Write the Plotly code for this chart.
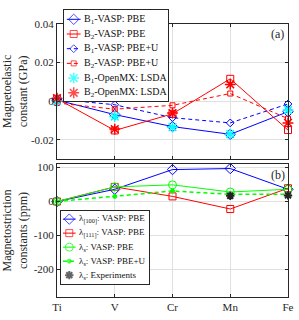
import plotly.graph_objects as go

elements = ["Ti", "V", "Cr", "Mn", "Fe"]

# Panel (a): magnetoelastic constants (GPa)
b1_vasp_pbe = [0.0005, -0.0070, -0.0132, -0.0172, -0.0055]
b2_vasp_pbe = [0.0012, -0.0152, -0.0066, 0.0115, -0.0150]
b1_vasp_pbeu = [0.0010, -0.0019, -0.0086, -0.0113, -0.0015]
b2_vasp_pbeu = [-0.0010, -0.0042, -0.0022, 0.0039, -0.0091]
b1_openmx = [0.0000, -0.0080, -0.0135, -0.0171, -0.0046]
b2_openmx = [0.0015, -0.0145, -0.0062, 0.0086, -0.0113]

# Panel (b): magnetostriction constants (ppm)
lam100_pbe = [0, 36, 94, 97, 36]
lam111_pbe = [0, 43, 15, -22, 39]
lams_pbe = [0, 43, 49, 28, 36]
lams_pbeu = [0, 15, 31, 21, 21]
exp_elements = ["Mn", "Fe"]
lams_exp = [17, 18]

names_a = ["B<sub>1</sub>-VASP: PBE", "B<sub>2</sub>-VASP: PBE", "B<sub>1</sub>-VASP: PBE+U",
           "B<sub>2</sub>-VASP: PBE+U", "B<sub>1</sub>-OpenMX: LSDA", "B<sub>2</sub>-OpenMX: LSDA"]
names_b = ["λ<sub>[100]</sub>: VASP: PBE", "λ<sub>[111]</sub>: VASP: PBE", "λ<sub>s</sub>: VASP: PBE",
           "λ<sub>s</sub>: VASP: PBE+U", "λ<sub>s</sub>: Experiments"]

BLUE = "#0000FF"
RED = "#FF0000"
CYAN = "#00FFFF"
GREEN = "#00FF00"
DARK = "#262626"
SERIF = "Liberation Serif, Times New Roman, serif"
DASH = "4px,3px"

# style: (color, dash or None for markers only, symbol, size, line width, marker line width)
styles_a = [
    (BLUE, "solid", "diamond-open", 8, 1.0, 1.0),
    (RED, "solid", "square-open", 7, 1.0, 1.0),
    (BLUE, DASH, "diamond-open", 6, 1.0, 1.0),
    (RED, DASH, "square-open", 5, 1.0, 1.0),
    (CYAN, None, "asterisk-open", 9, 1.0, 1.5),
    (RED, None, "asterisk-open", 9, 1.0, 1.5),
]
styles_b = [
    (BLUE, "solid", "diamond-open", 8, 1.0, 1.0),
    (RED, "solid", "square-open", 7, 1.0, 1.0),
    (GREEN, "solid", "circle-open", 8, 1.0, 1.0),
    (GREEN, DASH, "circle", 4, 1.5, 1.0),
    ("#222222", None, "asterisk-open", 7, 1.0, 2.0),
]

W, H = 299, 320
ML, MR, MT, MB = 53, 11, 4, 23
PW, PH = W - ML - MR, H - MT - MB


def px_x(p):
    return (p - ML) / PW


def px_y(p):
    return (H - MB - p) / PH


fig = go.Figure()


def add_series(x, y, style, axes):
    color, dash, symbol, size, lw, mlw = style
    fig.add_trace(go.Scatter(
        x=x, y=y, mode="markers" if dash is None else "lines+markers",
        line=dict(color=color, width=lw, dash=dash or "solid"),
        marker=dict(symbol=symbol, size=size, color=color, line=dict(color=color, width=mlw)),
        xaxis=axes[0], yaxis=axes[1], cliponaxis=False, showlegend=False, hoverinfo="x+y",
    ))


series_a = [b1_vasp_pbe, b2_vasp_pbe, b1_vasp_pbeu, b2_vasp_pbeu, b1_openmx, b2_openmx]
for vals, st in zip(series_a, styles_a):
    add_series(elements, vals, st, ("x", "y"))

series_b = [(elements, lam100_pbe), (elements, lam111_pbe), (elements, lams_pbe),
            (elements, lams_pbeu), (exp_elements, lams_exp)]
for (xs, vals), st in zip(series_b, styles_b):
    add_series(xs, vals, st, ("x2", "y2"))

annotations = []
legend_axes = {}


def add_legend(ax_id, names, styles, box, first_row, row_step, key_x0, key_x1, text_x, font_size):
    # box in figure pixels: left, top, right, bottom
    left, top, right, bottom = box
    xa, ya = "x%d" % ax_id, "y%d" % ax_id
    legend_axes["xaxis%d" % ax_id] = dict(
        domain=[px_x(left), px_x(right)], range=[0, right - left], anchor=ya,
        showline=True, mirror=True, linecolor=DARK, linewidth=1,
        showgrid=False, zeroline=False, showticklabels=False, ticks="", fixedrange=True)
    legend_axes["yaxis%d" % ax_id] = dict(
        domain=[px_y(bottom), px_y(top)], range=[bottom - top, 0], anchor=xa,
        showline=True, mirror=True, linecolor=DARK, linewidth=1,
        showgrid=False, zeroline=False, showticklabels=False, ticks="", fixedrange=True)
    mid = (key_x0 + key_x1) / 2
    for i, (name, st) in enumerate(zip(names, styles)):
        color, dash, symbol, size, lw, mlw = st
        yrow = first_row + i * row_step
        if dash is None:
            kx, ky, ks = [mid], [yrow], [size]
        else:
            kx, ky, ks = [key_x0, mid, key_x1], [yrow] * 3, [0, size, 0]
        fig.add_trace(go.Scatter(
            x=kx, y=ky, mode="markers" if dash is None else "lines+markers",
            line=dict(color=color, width=lw, dash=dash or "solid"),
            marker=dict(symbol=symbol, size=ks, color=color, line=dict(color=color, width=mlw)),
            xaxis=xa, yaxis=ya, showlegend=False, hoverinfo="skip", cliponaxis=False))
        annotations.append(dict(
            text=name, x=text_x, y=yrow, xref=xa, yref=ya, xanchor="left", yanchor="middle",
            showarrow=False, font=dict(family=SERIF, size=font_size, color="#111111")))


add_legend(3, names_a, styles_a, (60, 4, 166, 97), 9.5, 15.0, 3, 17, 18, 10)
add_legend(4, names_b, styles_b, (57, 209, 147, 284), 8.5, 14.3, 2, 15, 16, 9)

axis_common = dict(
    showline=True, linecolor=DARK, linewidth=1, mirror="ticks",
    ticks="inside", ticklen=3, tickcolor=DARK,
    showgrid=True, gridcolor="#E0E0E0", gridwidth=1, zeroline=False,
    tickfont=dict(family=SERIF, size=11, color=DARK),
)

annotations += [
    dict(text="(a)", xref="paper", yref="paper", x=px_x(286), y=px_y(28), xanchor="right", yanchor="middle",
         showarrow=False, font=dict(family=SERIF, size=12, color=DARK)),
    dict(text="(b)", xref="paper", yref="paper", x=px_x(287), y=px_y(172), xanchor="right", yanchor="middle",
         showarrow=False, font=dict(family=SERIF, size=12, color=DARK)),
]

fig.update_layout(
    width=W, height=H, autosize=False,
    margin=dict(l=ML, r=MR, t=MT, b=MB),
    paper_bgcolor="white", plot_bgcolor="white",
    font=dict(family=SERIF, size=11, color=DARK),
    showlegend=False,
    xaxis=dict(axis_common, type="category", categoryorder="array", categoryarray=elements,
               range=[0, 4], showticklabels=False, anchor="y"),
    yaxis=dict(axis_common, domain=[px_y(156), px_y(18)], range=[-0.0299, 0.04],
               tickvals=[-0.02, 0, 0.02, 0.04], ticktext=["-0.02", "0", "0.02", "0.04"], anchor="x",
               title=dict(text="Magnetoelastic<br>constant (GPa)", font=dict(family=SERIF, size=12), standoff=3)),
    xaxis2=dict(axis_common, type="category", categoryorder="array", categoryarray=elements,
                range=[0, 4], anchor="y2", domain=[0, 1]),
    yaxis2=dict(axis_common, domain=[0, px_y(161)], range=[-281, 111], anchor="x2",
                tickvals=[-200, -100, 0, 100], ticktext=["-200", "-100", "0", "100"],
                title=dict(text="Magnetostriction<br>constants (ppm)", font=dict(family=SERIF, size=12), standoff=3)),
    annotations=annotations,
    **legend_axes,
)

fig.write_html(
    "out.html",
    config={"displayModeBar": False},
    post_script="document.body.style.margin='0';document.body.style.padding='0';"
                "document.body.style.overflow='hidden';",
)
